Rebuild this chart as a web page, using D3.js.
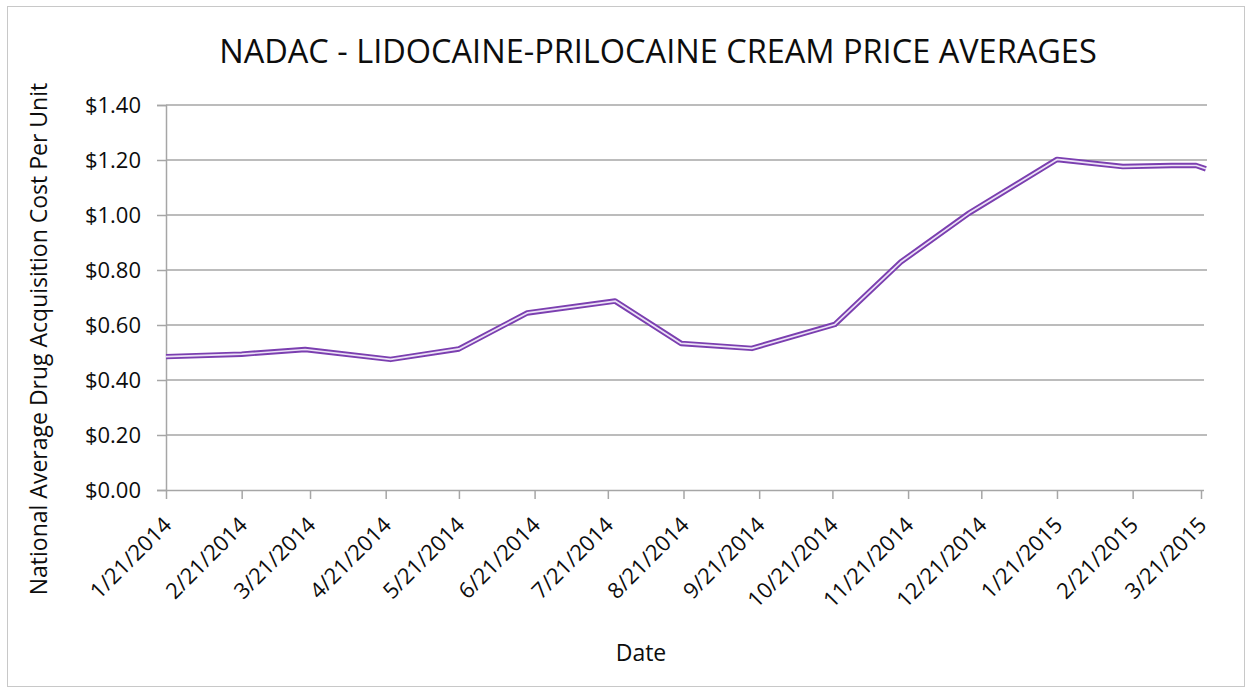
<!DOCTYPE html>
<html>
<head>
<meta charset="utf-8">
<script src="https://cdn.jsdelivr.net/npm/d3@7"></script>
<style>
  html, body { margin: 0; padding: 0; background: #fff; }
  svg { display: block; font-family: "Open Sans", "Noto Sans", sans-serif; }
</style>
</head>
<body>
<svg id="chart" width="1252" height="692"></svg>
<script>
// NADAC price averages for lidocaine-prilocaine cream
const dates = [
  "2014-01-21", "2014-02-21", "2014-03-19", "2014-04-23", "2014-05-21",
  "2014-06-18", "2014-07-24", "2014-08-20", "2014-09-18", "2014-10-22",
  "2014-11-18", "2014-12-16", "2015-01-21", "2015-02-17", "2015-03-09",
  "2015-03-19", "2015-03-23"
];
const prices = [
  0.485, 0.494, 0.511, 0.475, 0.513,
  0.644, 0.687, 0.533, 0.515, 0.602,
  0.829, 1.007, 1.202, 1.176, 1.180,
  1.180, 1.168
];
const tickDates = [
  "2014-01-21", "2014-02-21", "2014-03-21", "2014-04-21", "2014-05-21",
  "2014-06-21", "2014-07-21", "2014-08-21", "2014-09-21", "2014-10-21",
  "2014-11-21", "2014-12-21", "2015-01-21", "2015-02-21", "2015-03-21"
];
const yTicks = [0, 0.2, 0.4, 0.6, 0.8, 1.0, 1.2, 1.4];

const FONT = '"Open Sans", "Noto Sans", sans-serif';
const parse = d3.timeParse("%Y-%m-%d");
const data = dates.map((d, i) => ({ date: parse(d), value: prices[i] }));
const ticks = tickDates.map(parse);

const svg = d3.select("#chart");
const W = 1252, H = 692;
const plot = { left: 166, right: 1201, top: 105, bottom: 490 };

// chart frame
svg.append("rect")
  .attr("x", 7.5).attr("y", 6.5)
  .attr("width", W - 15).attr("height", H - 12)
  .attr("fill", "#fff").attr("stroke", "#c8c8c8").attr("stroke-width", 1);

const x = d3.scaleTime()
  .domain([ticks[0], ticks[ticks.length - 1]])
  .range([plot.left, plot.right]);
const y = d3.scaleLinear().domain([0, 1.4]).range([plot.bottom, plot.top]);

// horizontal gridlines
svg.append("g")
  .selectAll("line")
  .data(yTicks.slice(1))
  .join("line")
  .attr("x1", plot.left).attr("x2", plot.right + 3)
  .attr("y1", d => y(d)).attr("y2", d => y(d))
  .attr("stroke", "#a6a6a6").attr("stroke-width", 1.5);

// y axis
const yAxis = svg.append("g")
  .attr("transform", `translate(${plot.left},0)`)
  .call(d3.axisLeft(y).tickValues(yTicks).tickSize(9).tickPadding(16)
    .tickFormat(d => "$" + d.toFixed(2)))
  .attr("font-family", FONT)
  .attr("font-size", 22);
yAxis.select(".domain").attr("stroke", "#a6a6a6").attr("stroke-width", 1.5);
yAxis.selectAll(".tick line").attr("stroke", "#a6a6a6").attr("stroke-width", 1.5);
yAxis.selectAll(".tick text").attr("fill", "#0d0d0d");

// x axis
const xAxis = svg.append("g")
  .attr("transform", `translate(0,${plot.bottom})`)
  .call(d3.axisBottom(x).tickValues(ticks).tickSize(9)
    .tickFormat(d3.timeFormat("%-m/%-d/%Y")))
  .attr("font-family", FONT)
  .attr("font-size", 22);
xAxis.select(".domain").attr("stroke", "#a6a6a6").attr("stroke-width", 1.5)
  .attr("d", `M${plot.left},0.5H${plot.right + 3}`);
xAxis.selectAll(".tick line").attr("stroke", "#a6a6a6").attr("stroke-width", 1.5);
xAxis.selectAll(".tick text")
  .attr("fill", "#0d0d0d")
  .attr("text-anchor", "end")
  .attr("dy", "0.35em")
  .attr("transform", "translate(1,31) rotate(-45)")
  .attr("x", 0).attr("y", 0);

// small marks along the right edge
svg.append("g")
  .selectAll("line")
  .data([1.4, 1.2, 0.8, 0.2])
  .join("line")
  .attr("x1", plot.right + 3).attr("x2", plot.right + 6)
  .attr("y1", d => y(d)).attr("y2", d => y(d))
  .attr("stroke", "#a6a6a6").attr("stroke-width", 1.5);

// price line: purple double stroke
const line = d3.line().x(d => x(d.date)).y(d => y(d.value));
svg.append("path").datum(data)
  .attr("d", line)
  .attr("fill", "none")
  .attr("stroke", "#7b3fb0")
  .attr("stroke-width", 5.5)
  .attr("stroke-linejoin", "round");
svg.append("path").datum(data)
  .attr("d", line)
  .attr("fill", "none")
  .attr("stroke", "#ece2f6")
  .attr("stroke-width", 1.7)
  .attr("stroke-linejoin", "round");

// title
svg.append("text")
  .attr("x", 658).attr("y", 63)
  .attr("text-anchor", "middle")
  .attr("fill", "#0d0d0d")
  .style("font-size", "32.5px")
  .text("NADAC - LIDOCAINE-PRILOCAINE CREAM PRICE AVERAGES");

// axis titles
svg.append("text")
  .attr("transform", "translate(47,339) rotate(-90)")
  .attr("text-anchor", "middle")
  .attr("fill", "#0d0d0d")
  .style("font-size", "23px")
  .text("National Average Drug Acquisition Cost Per Unit");

svg.append("text")
  .attr("x", 641).attr("y", 661)
  .attr("text-anchor", "middle")
  .attr("fill", "#0d0d0d")
  .style("font-size", "23px")
  .text("Date");
</script>
</body>
</html>
